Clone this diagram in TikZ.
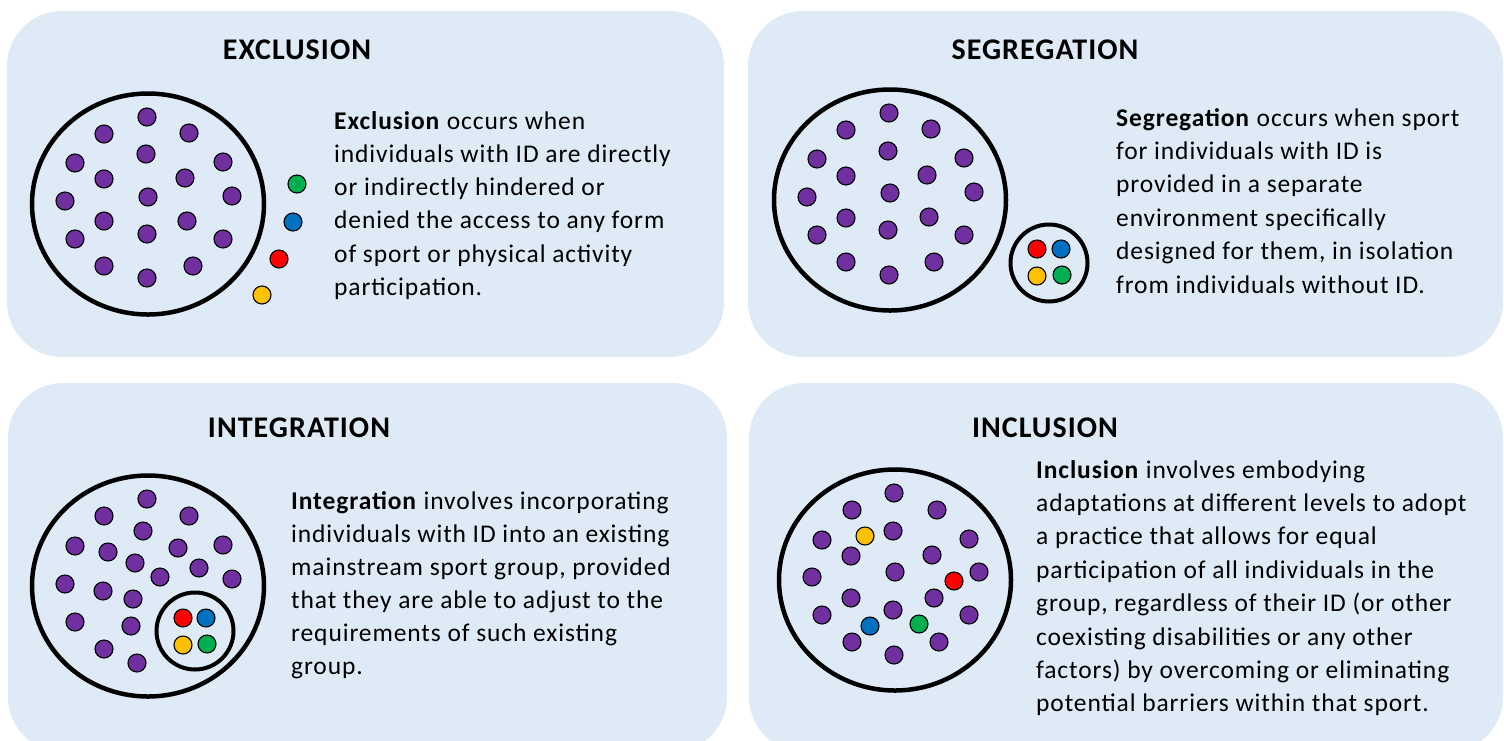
\documentclass[tikz,border=0pt]{standalone}
\usepackage{fontspec}
\setmainfont{Carlito}[LetterSpace=3.5]
\usetikzlibrary{shapes.geometric}
\definecolor{panelblue}{HTML}{DEEBF7}
\definecolor{ppl}{HTML}{7030A0}
\definecolor{grn}{HTML}{00B050}
\definecolor{blu}{HTML}{0070C0}
\definecolor{red}{HTML}{FF0000}
\definecolor{ylw}{HTML}{FFC000}
\begin{document}
\begin{tikzpicture}[x=1pt,y=-1pt,
  panel/.style={fill=panelblue, rounded corners=55pt},
  dot/.style={circle, draw=black, line width=1.1pt, minimum size=18pt, inner sep=0pt},
  pdot/.style={dot, fill=ppl},
  gdot/.style={dot, fill=grn},
  bdot/.style={dot, fill=blu},
  rdot/.style={dot, fill=red},
  ydot/.style={dot, fill=ylw},
  group/.style={ellipse, draw=black, line width=4.5pt, inner sep=0pt, minimum width=232pt, minimum height=221pt},
  subgroup/.style={circle, draw=black, line width=4pt, inner sep=0pt, minimum size=77pt},
  titletext/.style={font=\bfseries\fontsize{30}{36}\selectfont, anchor=base, inner sep=0pt},
  body/.style={font=\fontsize{25.5}{33}\selectfont, anchor=base west, inner sep=0pt}]
\useasboundingbox (0,0) rectangle (1504,740);
\fill[white] (0,0) rectangle (1504,740);
% panels
\fill[panel] (7,11) rectangle (724,357);
\fill[panel] (748,11) rectangle (1503,357);
\fill[panel] (8,383) rectangle (727,752);
\fill[panel] (749,383) rectangle (1503,752);
% titles
\node[titletext] (tEx) at (297,59) {EXCLUSION};
\node[titletext] (tSe) at (1045,59) {SEGREGATION};
\node[titletext] (tIn) at (299,437) {INTEGRATION};
\node[titletext] (tIc) at (1045,437) {INCLUSION};
% ---------------- EXCLUSION
\node[group] (gEx) at (148,204) {};
\foreach \x/\y [count=\i] in {147/117,104/134,189/133,146/154,75/163,223/162,104/179,185/178,65/201,148/197,232/196,104/221,187/221,147/234,75/239,223/239,104/266,193/266,147/278}
  \node[pdot] (ex\i) at (\x,\y) {};
\node[gdot] (exG) at (297,184) {};
\node[bdot] (exB) at (293,222) {};
\node[rdot] (exR) at (279,259) {};
\node[ydot] (exY) at (262,295) {};
\foreach \t [count=\i from 0] in {{\textbf{Exclusion} occurs when},{individuals with ID are directly},{or indirectly hindered or},{denied the access to any form},{of sport or physical activity},{participation.}}
  \node[body] (exT\i) at (334,{129+33.3*\i}) {\t};
% ---------------- SEGREGATION
\node[group] (gSe) at (890,200) {};
\foreach \x/\y [count=\i] in {889/113,846/130,931/129,888/151,817/159,964/158,846/176,927/175,807/197,890/193,974/192,846/218,929/217,888/230,817/235,964/235,846/262,934/262,889/275}
  \node[pdot] (se\i) at (\x,\y) {};
\node[subgroup] (sSe) at (1049,263) {};
\node[rdot] (seR) at (1037,249) {};
\node[bdot] (seB) at (1061,249) {};
\node[ydot] (seY) at (1037,276) {};
\node[gdot] (seG) at (1062,275) {};
\foreach \t [count=\i from 0] in {{\textbf{Segregation} occurs when sport},{for individuals with ID is},{provided in a separate},{environment specifically},{designed for them, in isolation},{from individuals without ID.}}
  \node[body] (seT\i) at (1116,{126+33.4*\i}) {\t};
% ---------------- INTEGRATION
\node[group] (gIn) at (148,586) {};
\foreach \x/\y [count=\i] in {147/499,104/516,189/516,143/531,75/546,108/552,178/548,223/545,135/563,199/568,160/577,65/584,103/591,232/579,133/599,75/622,131/626,104/649,137/663}
  \node[pdot] (in\i) at (\x,\y) {};
\node[subgroup] (sIn) at (195,631) {};
\node[rdot] (inR) at (183,618) {};
\node[bdot] (inB) at (206,618) {};
\node[ydot] (inY) at (183,645) {};
\node[gdot] (inG) at (207,644) {};
\foreach \t [count=\i from 0] in {{\textbf{Integration} involves incorporating},{individuals with ID into an existing},{mainstream sport group, provided},{that they are able to adjust to the},{requirements of such existing},{group.}}
  \node[body] (inT\i) at (291,{509+33*\i}) {\t};
% ---------------- INCLUSION
\node[group] (gIc) at (895,580) {};
\foreach \x/\y [count=\i] in {894/493,852/510,937/510,893/531,822/540,969/539,851/556,932/555,812/577,895/572,979/572,851/598,934/598,893/610,822/615,969/615,852/642,939/642,894/655}
  \node[pdot] (ic\i) at (\x,\y) {};
\node[ydot] (icY) at (865,536) {};
\node[rdot] (icR) at (954,581) {};
\node[bdot] (icB) at (870,626) {};
\node[gdot] (icG) at (919,624) {};
\foreach \t [count=\i from 0] in {{\textbf{Inclusion} involves embodying},{adaptations at different levels to adopt},{a practice that allows for equal},{participation of all individuals in the},{group, regardless of their ID (or other},{coexisting disabilities or any other},{factors) by overcoming or eliminating},{potential barriers within that sport.}}
  \node[body] (icT\i) at (1036,{478+33.4*\i}) {\t};
\end{tikzpicture}
\end{document}
